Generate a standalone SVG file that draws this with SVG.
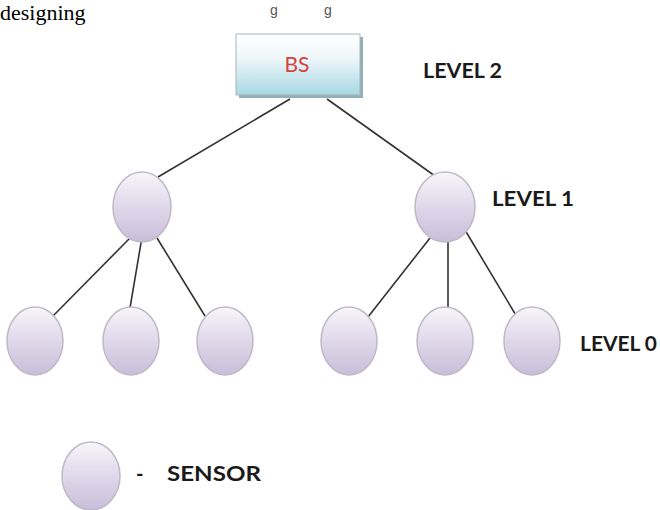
<svg xmlns="http://www.w3.org/2000/svg" width="660" height="510" viewBox="0 0 660 510">
  <style>
    .sensor { fill: url(#sg); stroke: #bdb9c6; stroke-width: 1.5; }
    .edge { stroke: #333; stroke-width: 1.6; fill: none; }
    .lvl { font-family: Lato, "Open Sans", "Liberation Sans", sans-serif; font-weight: bold; font-size: 20px; fill: #1a1a1a; }
  </style>
  <defs>
    <linearGradient id="sg" x1="0" y1="0" x2="0" y2="1">
      <stop offset="0" stop-color="#f7f6fa"/>
      <stop offset="0.55" stop-color="#ddd5e8"/>
      <stop offset="1" stop-color="#c9bed9"/>
    </linearGradient>
    <linearGradient id="bg" x1="0" y1="0" x2="0" y2="1">
      <stop offset="0" stop-color="#ffffff"/>
      <stop offset="0.4" stop-color="#eef7fa"/>
      <stop offset="1" stop-color="#a8d8e4"/>
    </linearGradient>
  </defs>
  <rect width="660" height="510" fill="#fff"/>
  <text x="0" y="20" font-family="Liberation Serif, serif" font-size="22" fill="#000">designing</text>
  <text x="270" y="15" font-family="Liberation Sans, sans-serif" font-size="14" fill="#555">g</text>
  <text x="324" y="15" font-family="Liberation Sans, sans-serif" font-size="14" fill="#555">g</text>

  <g id="connectors">
    <line class="edge" x1="290" y1="99" x2="158" y2="177"/>
    <line class="edge" x1="327" y1="99" x2="435" y2="176"/>
    <line class="edge" x1="130" y1="238" x2="52" y2="317"/>
    <line class="edge" x1="142" y1="237" x2="130" y2="308"/>
    <line class="edge" x1="157" y1="238" x2="205" y2="316"/>
    <line class="edge" x1="430" y1="238" x2="368" y2="317"/>
    <line class="edge" x1="448" y1="237" x2="448" y2="308"/>
    <line class="edge" x1="465" y1="230" x2="517" y2="317"/>
  </g>

  <g id="bs">
    <rect x="239" y="37" width="124" height="61" fill="#8fb0b9"/>
    <rect x="236" y="34" width="124" height="61" fill="url(#bg)" stroke="#a9b3b7" stroke-width="1"/>
    <text x="297" y="72" text-anchor="middle" font-family="Lato, 'Open Sans', 'Liberation Sans', sans-serif" font-size="21" fill="#d8413c">BS</text>
  </g>
  <text class="lvl" x="423" y="78" textLength="79" lengthAdjust="spacingAndGlyphs">LEVEL 2</text>

  <g id="l1a"><ellipse class="sensor" cx="142" cy="207" rx="29" ry="35"/></g>
  <g id="l1b"><ellipse class="sensor" cx="445" cy="207" rx="30" ry="35"/></g>
  <text class="lvl" x="492" y="206" textLength="82" lengthAdjust="spacingAndGlyphs">LEVEL 1</text>

  <g id="l0a"><ellipse class="sensor" cx="35" cy="341" rx="28" ry="34"/></g>
  <g id="l0b"><ellipse class="sensor" cx="131" cy="341" rx="28" ry="34"/></g>
  <g id="l0c"><ellipse class="sensor" cx="225" cy="341" rx="28" ry="34"/></g>
  <g id="l0d"><ellipse class="sensor" cx="349" cy="341" rx="28" ry="34"/></g>
  <g id="l0e"><ellipse class="sensor" cx="445" cy="341" rx="28" ry="34"/></g>
  <g id="l0f"><ellipse class="sensor" cx="532" cy="341" rx="28" ry="34"/></g>
  <text class="lvl" x="580" y="351" textLength="77" lengthAdjust="spacingAndGlyphs">LEVEL 0</text>

  <g id="legend">
    <ellipse class="sensor" cx="91" cy="476" rx="29" ry="34"/>
    <text class="lvl" x="136" y="481">-</text>
    <text class="lvl" x="167" y="481" textLength="94" lengthAdjust="spacingAndGlyphs">SENSOR</text>
  </g>
</svg>
